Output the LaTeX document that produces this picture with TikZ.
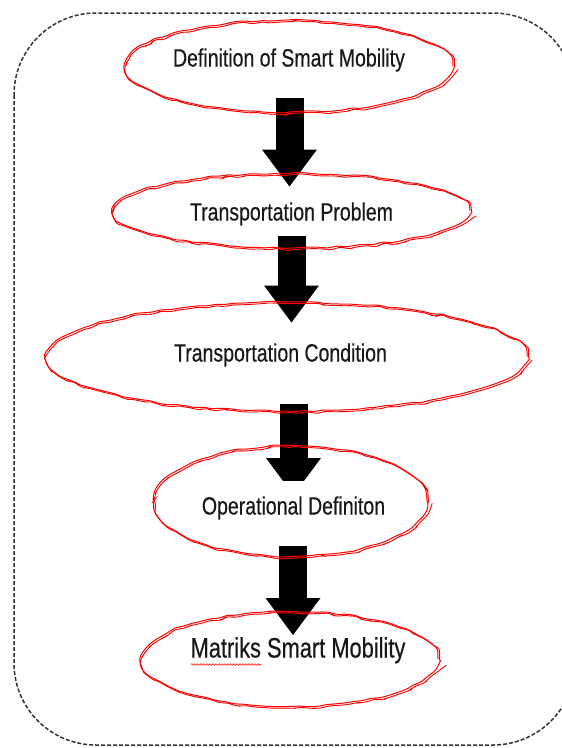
\documentclass[tikz,border=0pt]{standalone}
\usepackage{fontspec}
\setmainfont{Liberation Sans}[FakeStretch=0.78,FakeBold=0.4]
\usetikzlibrary{shapes.geometric,arrows.meta,decorations.pathmorphing,backgrounds}

\tikzset{
    bubble/.style={ellipse, inner sep=0pt, inner xsep=-20pt, text=black!90,
        draw=red, line width=1pt, decorate, rounded corners=3pt,
        decoration={random steps,segment length=9pt,amplitude=1pt},
        postaction={draw=red, line width=0.9pt, decorate, rounded corners=3pt,
            decoration={random steps,segment length=11pt,amplitude=1.2pt},
            transform canvas={xshift=1.6pt,yshift=-1.6pt}}},
    lift/.style 2 args={text height=#1, text depth=#2},
    blockarrow/.style={black, line width=28pt,
        -{Triangle[length=37pt,width=55pt,line width=0pt]}}
}

\begin{document}
\begin{tikzpicture}[x=1pt,y=-1pt,font=\fontsize{25}{30}\selectfont]
        \pgfmathsetseed{7}
        \useasboundingbox (0,0) rectangle (562,748);
        \begin{scope}
            \clip (0,0) rectangle (562,748);
            \draw[black!80, line width=1.5pt, dash pattern=on 4pt off 2pt, rounded corners=82pt] (14,13) rectangle (575,745);
        \end{scope}

        \node[bubble, lift={18pt}{17pt}, minimum width=328pt, minimum height=92pt] (def) at (289,66) {Definition of Smart Mobility};
        \node[bubble, lift={20pt}{0pt}, minimum width=357pt, minimum height=75pt] (prob) at (291.5,210.5) {Transportation Problem};
        \node[bubble, lift={18pt}{8pt}, minimum width=480pt, minimum height=109pt] (cond) at (287,356.5) {Transportation Condition\kern13pt};
        \node[bubble, lift={27pt}{0pt}, minimum width=273pt, minimum height=111pt] (oper) at (290.5,501) {\kern6pt Operational Definiton};
        \node[bubble, lift={20pt}{23pt}, minimum width=296pt, minimum height=95pt, font=\fontsize{28}{32}\selectfont] (matr) at (290,659) {\kern16pt Matriks Smart Mobility};

        \draw[red, line width=0.6pt, decorate, decoration={snake,segment length=3pt,amplitude=0.8pt}] ([shift={(-99pt,-5.5pt)}]matr.center) -- ([shift={(-29pt,-5.5pt)}]matr.center);

        \begin{scope}[on background layer]
            \draw[blockarrow] ([xshift=0.5pt,yshift=15pt]def.south) -- ([xshift=-2pt,yshift=-14pt]prob.north);
            \draw[blockarrow] ([yshift=13pt]prob.south) -- ([xshift=4.5pt,yshift=-21pt]cond.north);
            \begin{scope}
                \clip (250,395) rectangle (340,480);
                \draw[blockarrow] ([xshift=6.5pt,yshift=8pt]cond.south) -- ([xshift=3pt,yshift=-50pt]oper.north);
            \end{scope}
            \draw[blockarrow] ([xshift=2.5pt,yshift=11pt]oper.south) -- ([xshift=3pt,yshift=-24pt]matr.north);
        \end{scope}
\end{tikzpicture}
\end{document}
